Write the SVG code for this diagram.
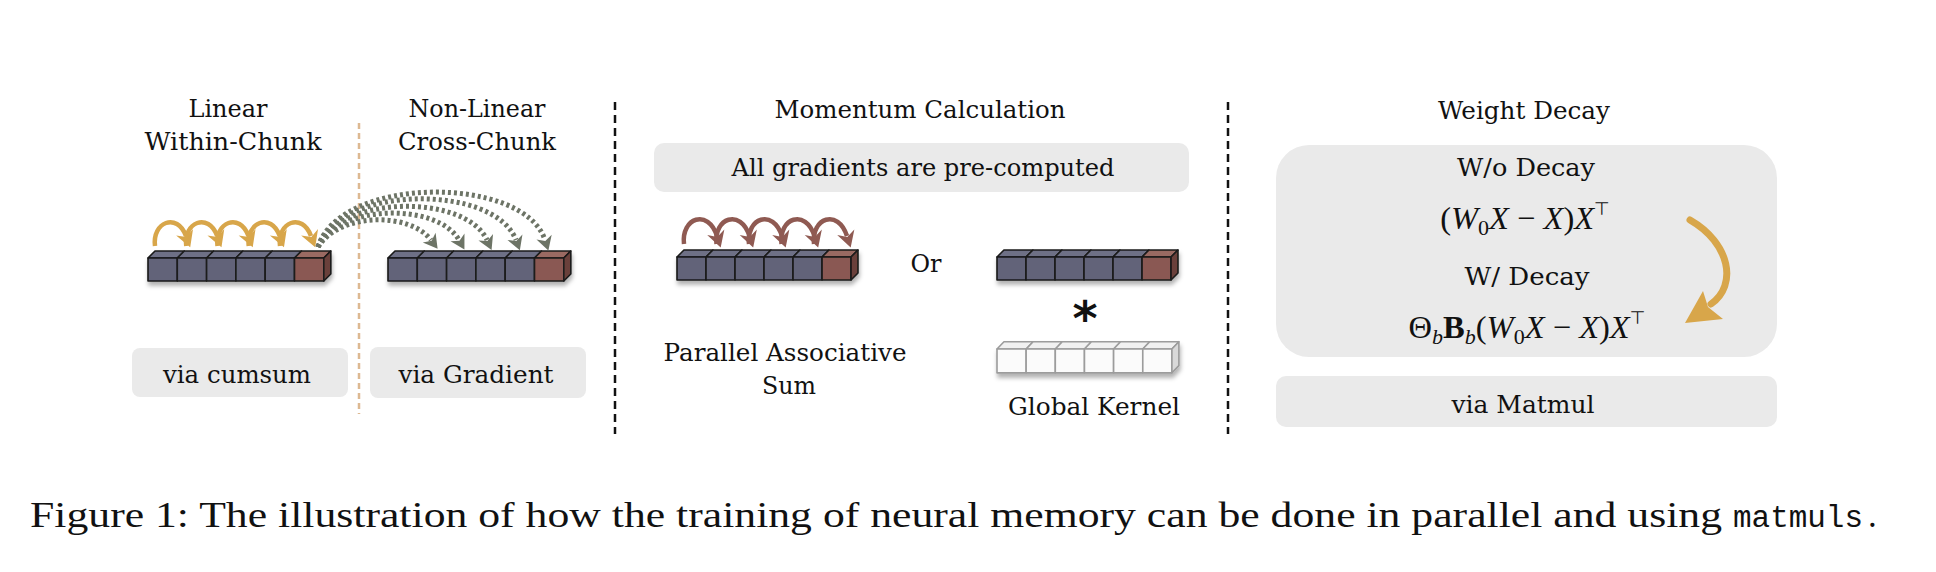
<svg xmlns="http://www.w3.org/2000/svg" width="1936" height="572" viewBox="0 0 1936 572">
<style>
.t { font-family: "DejaVu Serif", "Liberation Serif", serif; font-size: 25px; fill: #111; text-anchor: middle; }
.box { fill: #EAEAEA; }
.cf { fill: #626479; stroke: #1a1a1a; stroke-width: 1.6; vector-effect: non-scaling-stroke; stroke-linejoin: round; }
.ct { fill: #6E7086; stroke: #1a1a1a; stroke-width: 1.6; vector-effect: non-scaling-stroke; stroke-linejoin: round; }
.rf { fill: #8A5852; stroke: #1a1a1a; stroke-width: 1.6; vector-effect: non-scaling-stroke; stroke-linejoin: round; }
.rt { fill: #9A6A62; stroke: #1a1a1a; stroke-width: 1.6; vector-effect: non-scaling-stroke; stroke-linejoin: round; }
.rs { fill: #6B413B; stroke: #1a1a1a; stroke-width: 1.6; vector-effect: non-scaling-stroke; stroke-linejoin: round; }
.wf { fill: #FBFBFB; stroke: #9C9C9C; stroke-width: 1.6; vector-effect: non-scaling-stroke; stroke-linejoin: round; }
.wt { fill: #F1F1F1; stroke: #9C9C9C; stroke-width: 1.6; vector-effect: non-scaling-stroke; stroke-linejoin: round; }
.ws { fill: #D9D9D9; stroke: #9C9C9C; stroke-width: 1.6; vector-effect: non-scaling-stroke; stroke-linejoin: round; }
.gold { fill: none; stroke: #D8A64A; stroke-width: 4.5; marker-end: url(#ag); }
.red { fill: none; stroke: #8F5A52; stroke-width: 4.5; marker-end: url(#ar); }
.dot { fill: none; stroke: #6D7466; stroke-width: 5; stroke-dasharray: 3 3; marker-end: url(#ay); }
.sep { stroke: #111; stroke-width: 2.5; stroke-dasharray: 8 5; fill: none; }
.m { font-family: "Liberation Serif", "DejaVu Serif", serif; font-size: 32.5px; fill: #111; text-anchor: middle; }
.i { font-style: italic; }
</style>
<defs>
<filter id="sh" x="-10%" y="-50%" width="120%" height="220%">
<feDropShadow dx="1" dy="4" stdDeviation="2" flood-color="#000" flood-opacity="0.3"/>
</filter>
<marker id="ag" markerUnits="userSpaceOnUse" markerWidth="30" markerHeight="30" refX="0" refY="0" orient="auto" style="overflow:visible">
<path d="M-4,-9 L12,0 L-4,9 L1,0 Z" fill="#D8A64A"/>
</marker>
<marker id="ar" markerUnits="userSpaceOnUse" markerWidth="30" markerHeight="30" refX="0" refY="0" orient="auto" style="overflow:visible">
<path d="M-4,-9 L12,0 L-4,9 L1,0 Z" fill="#8F5A52"/>
</marker>
<marker id="ay" markerUnits="userSpaceOnUse" markerWidth="30" markerHeight="30" refX="0" refY="0" orient="auto" style="overflow:visible">
<path d="M-3,-8 L11,0 L-3,8 L1,0 Z" fill="#6D7466"/>
</marker>
<g id="row">
<polygon class="ct" points="0,0 7,-7 36.3,-7 29.3,0"/>
<polygon class="ct" points="29.3,0 36.3,-7 65.6,-7 58.6,0"/>
<polygon class="ct" points="58.6,0 65.6,-7 94.9,-7 87.9,0"/>
<polygon class="ct" points="87.9,0 94.9,-7 124.2,-7 117.2,0"/>
<polygon class="ct" points="117.2,0 124.2,-7 153.5,-7 146.5,0"/>
<polygon class="rt" points="146.5,0 153.5,-7 182.8,-7 175.8,0"/>
<rect class="cf" x="0" y="0" width="29.3" height="23"/>
<rect class="cf" x="29.3" y="0" width="29.3" height="23"/>
<rect class="cf" x="58.6" y="0" width="29.3" height="23"/>
<rect class="cf" x="87.9" y="0" width="29.3" height="23"/>
<rect class="cf" x="117.2" y="0" width="29.3" height="23"/>
<rect class="rf" x="146.5" y="0" width="29.3" height="23"/>
<polygon class="rs" points="175.8,0 182.8,-7 182.8,16 175.8,23"/>
</g>
<g id="wrow">
<polygon class="wt" points="0,0 7,-7 36.3,-7 29.3,0"/>
<polygon class="wt" points="29.3,0 36.3,-7 65.6,-7 58.6,0"/>
<polygon class="wt" points="58.6,0 65.6,-7 94.9,-7 87.9,0"/>
<polygon class="wt" points="87.9,0 94.9,-7 124.2,-7 117.2,0"/>
<polygon class="wt" points="117.2,0 124.2,-7 153.5,-7 146.5,0"/>
<polygon class="wt" points="146.5,0 153.5,-7 182.8,-7 175.8,0"/>
<rect class="wf" x="0" y="0" width="29.3" height="23"/>
<rect class="wf" x="29.3" y="0" width="29.3" height="23"/>
<rect class="wf" x="58.6" y="0" width="29.3" height="23"/>
<rect class="wf" x="87.9" y="0" width="29.3" height="23"/>
<rect class="wf" x="117.2" y="0" width="29.3" height="23"/>
<rect class="wf" x="146.5" y="0" width="29.3" height="23"/>
<polygon class="ws" points="175.8,0 182.8,-7 182.8,16 175.8,23"/>
</g>
</defs>
<rect width="1936" height="572" fill="#fff"/>

<g id="separators">
<line x1="359" y1="123" x2="359" y2="414" stroke="#DDB992" stroke-width="2.5" stroke-dasharray="6 4"/>
<line class="sep" x1="615" y1="102" x2="615" y2="434"/>
<line class="sep" x1="1228" y1="102" x2="1228" y2="434"/>
</g>

<g id="linear-title">
<text class="t" x="228" y="117" textLength="79" lengthAdjust="spacingAndGlyphs">Linear</text>
<text class="t" x="233" y="150" textLength="177" lengthAdjust="spacingAndGlyphs">Within-Chunk</text>
</g>
<g id="linear-chunk">
<use href="#row" transform="translate(148,258)" filter="url(#sh)"/>
</g>
<g id="via-cumsum">
<rect class="box" x="132" y="348" width="216" height="49" rx="8"/>
<text class="t" x="237" y="383" textLength="148" lengthAdjust="spacingAndGlyphs">via cumsum</text>
</g>

<g id="nonlinear-title">
<text class="t" x="477" y="117" textLength="137" lengthAdjust="spacingAndGlyphs">Non-Linear</text>
<text class="t" x="477" y="150" textLength="158" lengthAdjust="spacingAndGlyphs">Cross-Chunk</text>
</g>
<g id="nonlinear-chunk">
<use href="#row" transform="translate(388,258)" filter="url(#sh)"/>
</g>
<g id="via-gradient">
<rect class="box" x="370" y="347" width="216" height="51" rx="8"/>
<text class="t" x="476" y="383" textLength="155" lengthAdjust="spacingAndGlyphs">via Gradient</text>
</g>

<g id="momentum-title">
<text class="t" x="920" y="118" textLength="291" lengthAdjust="spacingAndGlyphs">Momentum Calculation</text>
</g>
<g id="precomputed">
<rect class="box" x="654" y="143" width="535" height="49" rx="10"/>
<text class="t" x="923" y="176" textLength="383" lengthAdjust="spacingAndGlyphs">All gradients are pre-computed</text>
</g>
<g id="assoc-chunk">
<use href="#row" transform="translate(677,257) scale(0.99,1)" filter="url(#sh)"/>
</g>
<g id="assoc-label">
<text class="t" x="785" y="361" textLength="243" lengthAdjust="spacingAndGlyphs">Parallel Associative</text>
<text class="t" x="789" y="394" textLength="54" lengthAdjust="spacingAndGlyphs">Sum</text>
</g>
<g id="or-label">
<text class="t" x="926" y="272" font-size="26" textLength="31" lengthAdjust="spacingAndGlyphs">Or</text>
</g>
<g id="kernel-input">
<use href="#row" transform="translate(997,257) scale(0.99,1)" filter="url(#sh)"/>
</g>
<g id="convolution">
<text x="1085" y="335" font-family="DejaVu Sans, sans-serif" font-size="48" font-weight="bold" text-anchor="middle" fill="#111">*</text>
</g>
<g id="global-kernel">
<use href="#wrow" transform="translate(997,349) scale(0.995,1.04)" filter="url(#sh)"/>
<text class="t" x="1094" y="415" textLength="172" lengthAdjust="spacingAndGlyphs">Global Kernel</text>
</g>

<g id="decay-title">
<text class="t" x="1524" y="119" textLength="172" lengthAdjust="spacingAndGlyphs">Weight Decay</text>
</g>
<g id="decay-box">
<rect class="box" x="1276" y="145" width="501" height="212" rx="33"/>
<text class="t" x="1526" y="176" textLength="138" lengthAdjust="spacingAndGlyphs">W/o Decay</text>
<text class="m" x="1525" y="229">(<tspan class="i">W</tspan><tspan font-size="22" dy="6">0</tspan><tspan class="i" dy="-6">X</tspan> − <tspan class="i">X</tspan>)<tspan class="i">X</tspan><tspan font-family="DejaVu Sans, sans-serif" font-size="18" dy="-14">⊤</tspan></text>
<text class="t" x="1527" y="285" textLength="125" lengthAdjust="spacingAndGlyphs">W/ Decay</text>
<text class="m" x="1527" y="338">Θ<tspan class="i" font-size="22" dy="6">b</tspan><tspan font-weight="bold" dy="-6">B</tspan><tspan class="i" font-size="22" dy="6">b</tspan><tspan dy="-6">(</tspan><tspan class="i">W</tspan><tspan font-size="22" dy="6">0</tspan><tspan class="i" dy="-6">X</tspan> − <tspan class="i">X</tspan>)<tspan class="i">X</tspan><tspan font-family="DejaVu Sans, sans-serif" font-size="18" dy="-14">⊤</tspan></text>
</g>
<g id="via-matmul">
<rect class="box" x="1276" y="376" width="501" height="51" rx="10"/>
<text class="t" x="1523" y="413" textLength="143" lengthAdjust="spacingAndGlyphs">via Matmul</text>
</g>

<g id="connectors">
<path class="gold" d="M155,246 C152,222 177,212 186,236"/>
<path class="gold" d="M186.25,246 C183.25,222 208.25,212 217.25,236"/>
<path class="gold" d="M217.5,246 C214.5,222 239.5,212 248.5,236"/>
<path class="gold" d="M248.75,246 C245.75,222 270.75,212 279.75,236"/>
<path class="gold" d="M280,246 C277,222 302,212 311,236"/>
<path class="dot" d="M318,247 C340,212 410,212 431,240"/>
<path class="dot" d="M318,247 C340,203 438,203 459,240"/>
<path class="dot" d="M318,247 C340,194 466,194 487,240"/>
<path class="dot" d="M318,247 C340,184 495,184 516,240"/>
<path class="dot" d="M318,247 C340,175 524,175 545,240"/>
<path class="red" d="M684,244 C681,218 708,208 717,236"/>
<path class="red" d="M716.5,244 C713.5,218 740.5,208 749.5,236"/>
<path class="red" d="M749,244 C746,218 773,208 782,236"/>
<path class="red" d="M781.5,244 C778.5,218 805.5,208 814.5,236"/>
<path class="red" d="M814,244 C811,218 838,208 847,236"/>
<path d="M1690,220 C1730,243 1738,285 1711,304" fill="none" stroke="#D8A64A" stroke-width="7" stroke-linecap="round"/>
<polygon points="1685,323 1703,291 1708,307 1723,319" fill="#D8A64A"/>
</g>

<g id="caption">
<text x="30" y="527" font-family="Liberation Serif, serif" font-size="35" fill="#111" textLength="1692" lengthAdjust="spacingAndGlyphs">Figure 1: The illustration of how the training of neural memory can be done in parallel and using</text>
<text x="1733" y="527" font-family="Liberation Mono, monospace" font-size="31" fill="#111" textLength="130" lengthAdjust="spacingAndGlyphs">matmuls</text>
<text x="1868" y="527" font-family="Liberation Serif, serif" font-size="35" fill="#111">.</text>
</g>
</svg>
